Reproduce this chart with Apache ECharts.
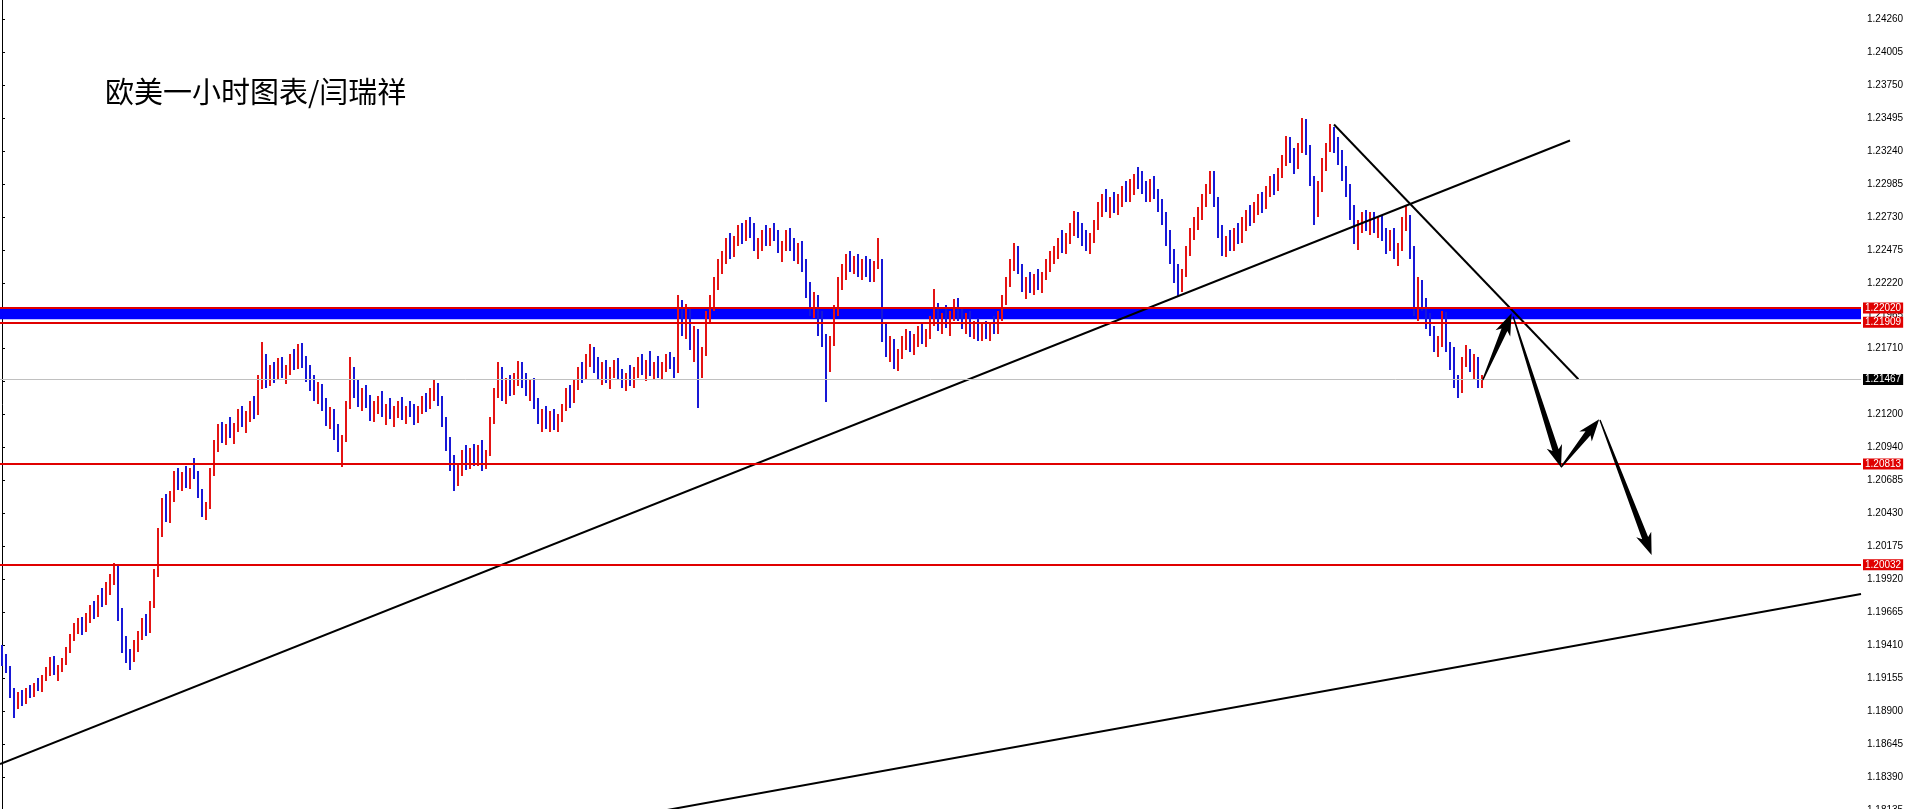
<!DOCTYPE html>
<html><head><meta charset="utf-8">
<script src="https://cdn.jsdelivr.net/npm/echarts@6/dist/echarts.min.js"></script>
<style>html,body{margin:0;padding:0;background:#fff}#c{width:1909px;height:809px}</style>
</head><body><div id="c"></div>
<script>
// Hourly EUR/USD bars (one bar per index)
const opens = [
1.1938,1.1928,1.1922,1.1903,1.1896,1.1902,1.1898,1.1906,1.1903,1.1910,
1.1908,1.1915,1.1921,1.1929,1.1920,1.1924,1.1928,1.1937,1.1947,1.1955,
1.1958,1.1953,1.1963,1.1968,1.1965,1.1977,1.1974,1.1986,1.1993,1.1998,
1.1965,1.1940,1.1932,1.1930,1.1942,1.1949,1.1958,1.1952,1.1972,1.1996,
1.2028,1.2050,1.2040,1.2056,1.2070,1.2064,1.2072,1.2066,1.2075,1.2073,
1.2058,1.2044,1.2048,1.2075,1.2096,1.2108,1.2102,1.2109,1.2105,1.2110,
1.2120,1.2114,1.2118,1.2125,1.2121,1.2146,1.2160,1.2147,1.2152,1.2150,
1.2158,1.2152,1.2155,1.2162,1.2158,1.2170,1.2160,1.2150,1.2142,1.2136,
1.2140,1.2126,1.2115,1.2120,1.2105,1.2096,1.2100,1.2126,1.2150,1.2138,
1.2130,1.2135,1.2128,1.2120,1.2126,1.2130,1.2122,1.2124,1.2118,1.2122,
1.2127,1.2119,1.2123,1.2121,1.2116,1.2124,1.2130,1.2126,1.2136,1.2140,
1.2130,1.2114,1.2096,1.2080,1.2068,1.2078,1.2088,1.2082,1.2090,1.2085,
1.2093,1.2080,1.2090,1.2115,1.2136,1.2150,1.2136,1.2144,1.2138,1.2148,
1.2155,1.2145,1.2138,1.2142,1.2128,1.2116,1.2120,1.2112,1.2118,1.2110,
1.2117,1.2125,1.2136,1.2130,1.2143,1.2152,1.2148,1.2162,1.2168,1.2156,
1.2150,1.2157,1.2148,1.2153,1.2158,1.2150,1.2144,1.2149,1.2146,1.2152,
1.2160,1.2154,1.2158,1.2152,1.2157,1.2150,1.2156,1.2162,1.2158,1.2153,
1.2205,1.2186,1.2198,1.2175,1.2182,1.2150,1.2168,1.2196,1.2205,1.2222,
1.2236,1.2240,1.2252,1.2246,1.2255,1.2262,1.2256,1.2266,1.2260,1.2250,
1.2252,1.2258,1.2254,1.2262,1.2257,1.2248,1.2250,1.2258,1.2250,1.2242,
1.2248,1.2234,1.2215,1.2200,1.2208,1.2186,1.2178,1.2160,1.2176,1.2200,
1.2222,1.2230,1.2240,1.2234,1.2238,1.2230,1.2236,1.2232,1.2226,1.2235,
1.2238,1.2182,1.2170,1.2174,1.2160,1.2166,1.2176,1.2180,1.2172,1.2178,
1.2184,1.2177,1.2182,1.2192,1.2200,1.2188,1.2194,1.2190,1.2196,1.2205,
1.2196,1.2190,1.2194,1.2184,1.2188,1.2180,1.2186,1.2182,1.2188,1.2185,
1.2196,1.2208,1.2222,1.2236,1.2244,1.2232,1.2218,1.2222,1.2218,1.2225,
1.2220,1.2228,1.2236,1.2242,1.2246,1.2252,1.2248,1.2256,1.2264,1.2270,
1.2260,1.2256,1.2250,1.2256,1.2266,1.2280,1.2286,1.2280,1.2284,1.2280,
1.2286,1.2292,1.2288,1.2298,1.2302,1.2298,1.2294,1.2288,1.2298,1.2290,
1.2280,1.2270,1.2256,1.2240,1.2228,1.2218,1.2228,1.2246,1.2260,1.2268,
1.2276,1.2286,1.2294,1.2304,1.2284,1.2260,1.2248,1.2254,1.2250,1.2260,
1.2256,1.2268,1.2274,1.2270,1.2280,1.2284,1.2280,1.2292,1.2300,1.2296,
1.2306,1.2316,1.2328,1.2318,1.2312,1.2326,1.2340,1.2324,1.2300,1.2276,
1.2296,1.2314,1.2326,1.2338,1.2328,1.2316,1.2306,1.2292,1.2276,1.2258,
1.2266,1.2270,1.2266,1.2272,1.2264,1.2268,1.2258,1.2250,1.2258,1.2244,
1.2248,1.2266,1.2270,1.2244,1.2200,1.2220,1.2204,1.2190,1.2184,1.2172,
1.2176,1.2196,1.2172,1.2158,1.2146,1.2138,1.2160,1.2166,1.2156,1.2162,
1.2144];
const highs = [
1.1941,1.1934,1.1925,1.1908,1.1905,1.1906,1.1908,1.1910,1.1912,1.1916,
1.1918,1.1924,1.1932,1.1933,1.1926,1.1931,1.1940,1.1950,1.1958,1.1962,
1.1963,1.1966,1.1972,1.1975,1.1980,1.1985,1.1990,1.1996,1.2005,1.2003,
1.1970,1.1948,1.1938,1.1945,1.1952,1.1962,1.1965,1.1975,1.2000,1.2032,
1.2055,1.2058,1.2060,1.2076,1.2078,1.2075,1.2080,1.2078,1.2086,1.2076,
1.2062,1.2052,1.2078,1.2100,1.2112,1.2114,1.2112,1.2118,1.2113,1.2124,
1.2126,1.2122,1.2130,1.2134,1.2150,1.2176,1.2166,1.2158,1.2160,1.2163,
1.2164,1.2158,1.2166,1.2170,1.2174,1.2175,1.2165,1.2158,1.2150,1.2145,
1.2143,1.2132,1.2125,1.2124,1.2112,1.2104,1.2130,1.2164,1.2156,1.2146,
1.2140,1.2142,1.2135,1.2130,1.2134,1.2138,1.2128,1.2132,1.2126,1.2130,
1.2133,1.2126,1.2130,1.2128,1.2126,1.2134,1.2136,1.2140,1.2146,1.2144,
1.2134,1.2118,1.2102,1.2088,1.2082,1.2092,1.2096,1.2094,1.2097,1.2096,
1.2100,1.2092,1.2118,1.2140,1.2160,1.2156,1.2148,1.2150,1.2152,1.2161,
1.2160,1.2152,1.2146,1.2148,1.2132,1.2124,1.2126,1.2122,1.2124,1.2120,
1.2128,1.2140,1.2142,1.2146,1.2156,1.2160,1.2166,1.2174,1.2172,1.2164,
1.2160,1.2162,1.2156,1.2162,1.2163,1.2155,1.2152,1.2158,1.2156,1.2164,
1.2166,1.2162,1.2169,1.2160,1.2165,1.2160,1.2166,1.2168,1.2164,1.2212,
1.2208,1.2205,1.2203,1.2188,1.2186,1.2172,1.2200,1.2212,1.2226,1.2240,
1.2246,1.2256,1.2260,1.2258,1.2266,1.2268,1.2270,1.2272,1.2268,1.2256,
1.2262,1.2266,1.2264,1.2268,1.2262,1.2254,1.2262,1.2264,1.2256,1.2252,
1.2254,1.2240,1.2222,1.2214,1.2212,1.2200,1.2182,1.2180,1.2204,1.2226,
1.2236,1.2244,1.2246,1.2242,1.2244,1.2240,1.2242,1.2240,1.2238,1.2256,
1.2240,1.2190,1.2180,1.2178,1.2170,1.2180,1.2186,1.2184,1.2182,1.2188,
1.2190,1.2186,1.2196,1.2217,1.2206,1.2198,1.2204,1.2200,1.2209,1.2210,
1.2202,1.2198,1.2200,1.2192,1.2194,1.2190,1.2192,1.2190,1.2196,1.2200,
1.2212,1.2226,1.2240,1.2252,1.2250,1.2236,1.2226,1.2230,1.2228,1.2232,
1.2230,1.2240,1.2246,1.2250,1.2256,1.2262,1.2260,1.2268,1.2277,1.2276,
1.2268,1.2262,1.2260,1.2270,1.2284,1.2290,1.2294,1.2288,1.2292,1.2290,
1.2296,1.2300,1.2302,1.2306,1.2311,1.2308,1.2300,1.2302,1.2304,1.2294,
1.2286,1.2276,1.2262,1.2248,1.2236,1.2232,1.2250,1.2264,1.2272,1.2280,
1.2290,1.2298,1.2308,1.2308,1.2288,1.2266,1.2258,1.2262,1.2264,1.2268,
1.2272,1.2278,1.2282,1.2284,1.2290,1.2292,1.2296,1.2304,1.2306,1.2310,
1.2320,1.2335,1.2334,1.2326,1.2330,1.2349,1.2348,1.2328,1.2304,1.2300,
1.2318,1.2330,1.2344,1.2342,1.2334,1.2324,1.2312,1.2298,1.2282,1.2270,
1.2276,1.2278,1.2276,1.2276,1.2272,1.2274,1.2264,1.2262,1.2264,1.2252,
1.2272,1.2282,1.2274,1.2250,1.2226,1.2224,1.2210,1.2198,1.2188,1.2180,
1.2200,1.2199,1.2176,1.2172,1.2150,1.2164,1.2173,1.2170,1.2166,1.2164,
1.2150];
const lows = [
1.1925,1.1919,1.1900,1.1885,1.1892,1.1894,1.1896,1.1900,1.1901,1.1906,
1.1905,1.1913,1.1917,1.1918,1.1914,1.1920,1.1926,1.1935,1.1944,1.1950,
1.1949,1.1951,1.1958,1.1961,1.1963,1.1970,1.1972,1.1980,1.1988,1.1960,
1.1935,1.1927,1.1922,1.1928,1.1936,1.1945,1.1948,1.1950,1.1970,1.1994,
1.2025,1.2036,1.2035,1.2052,1.2061,1.2060,1.2063,1.2062,1.2070,1.2055,
1.2040,1.2038,1.2046,1.2072,1.2090,1.2098,1.2096,1.2102,1.2097,1.2106,
1.2110,1.2105,1.2114,1.2116,1.2119,1.2140,1.2140,1.2142,1.2144,1.2147,
1.2148,1.2143,1.2150,1.2154,1.2155,1.2156,1.2145,1.2138,1.2130,1.2128,
1.2122,1.2110,1.2108,1.2100,1.2090,1.2079,1.2098,1.2124,1.2132,1.2125,
1.2122,1.2124,1.2115,1.2114,1.2120,1.2118,1.2112,1.2116,1.2110,1.2117,
1.2115,1.2112,1.2118,1.2112,1.2113,1.2120,1.2121,1.2124,1.2130,1.2126,
1.2110,1.2092,1.2076,1.2060,1.2064,1.2072,1.2077,1.2078,1.2080,1.2080,
1.2076,1.2077,1.2088,1.2112,1.2132,1.2130,1.2128,1.2134,1.2135,1.2142,
1.2140,1.2134,1.2130,1.2124,1.2112,1.2106,1.2108,1.2106,1.2108,1.2106,
1.2114,1.2122,1.2124,1.2128,1.2138,1.2144,1.2146,1.2156,1.2152,1.2146,
1.2142,1.2144,1.2139,1.2148,1.2146,1.2140,1.2138,1.2142,1.2140,1.2148,
1.2150,1.2146,1.2150,1.2146,1.2148,1.2147,1.2152,1.2155,1.2148,1.2152,
1.2180,1.2178,1.2170,1.2160,1.2125,1.2148,1.2165,1.2190,1.2200,1.2216,
1.2228,1.2236,1.2240,1.2242,1.2250,1.2252,1.2254,1.2256,1.2246,1.2240,
1.2246,1.2250,1.2250,1.2254,1.2244,1.2238,1.2246,1.2246,1.2238,1.2236,
1.2230,1.2210,1.2196,1.2194,1.2180,1.2172,1.2129,1.2152,1.2172,1.2196,
1.2216,1.2224,1.2230,1.2228,1.2226,1.2224,1.2226,1.2222,1.2222,1.2232,
1.2176,1.2164,1.2160,1.2155,1.2153,1.2162,1.2170,1.2168,1.2166,1.2172,
1.2174,1.2172,1.2178,1.2188,1.2184,1.2182,1.2186,1.2181,1.2192,1.2192,
1.2186,1.2182,1.2180,1.2178,1.2176,1.2176,1.2178,1.2176,1.2182,1.2182,
1.2192,1.2204,1.2218,1.2230,1.2228,1.2214,1.2209,1.2214,1.2212,1.2216,
1.2214,1.2224,1.2230,1.2236,1.2240,1.2244,1.2244,1.2252,1.2258,1.2256,
1.2250,1.2246,1.2244,1.2252,1.2262,1.2272,1.2276,1.2272,1.2276,1.2274,
1.2280,1.2284,1.2284,1.2290,1.2294,1.2290,1.2284,1.2284,1.2286,1.2276,
1.2266,1.2250,1.2236,1.2222,1.2211,1.2214,1.2226,1.2242,1.2254,1.2262,
1.2270,1.2280,1.2290,1.2280,1.2256,1.2242,1.2242,1.2246,1.2246,1.2252,
1.2252,1.2262,1.2266,1.2268,1.2274,1.2276,1.2278,1.2288,1.2290,1.2292,
1.2302,1.2312,1.2314,1.2306,1.2310,1.2322,1.2320,1.2296,1.2266,1.2272,
1.2292,1.2308,1.2322,1.2322,1.2312,1.2300,1.2288,1.2270,1.2252,1.2247,
1.2260,1.2262,1.2258,1.2260,1.2256,1.2254,1.2244,1.2246,1.2240,1.2234,
1.2246,1.2262,1.2240,1.2196,1.2192,1.2200,1.2186,1.2180,1.2168,1.2164,
1.2172,1.2168,1.2154,1.2140,1.2132,1.2136,1.2156,1.2152,1.2146,1.2140,
1.2140];
const closes = [
1.1928,1.1922,1.1903,1.1896,1.1902,1.1898,1.1906,1.1903,1.1910,1.1908,
1.1915,1.1921,1.1929,1.1920,1.1924,1.1928,1.1937,1.1947,1.1955,1.1958,
1.1953,1.1963,1.1968,1.1965,1.1977,1.1974,1.1986,1.1993,1.1998,1.1965,
1.1940,1.1932,1.1930,1.1942,1.1949,1.1958,1.1952,1.1972,1.1996,1.2028,
1.2050,1.2040,1.2056,1.2070,1.2064,1.2072,1.2066,1.2075,1.2073,1.2058,
1.2044,1.2048,1.2075,1.2096,1.2108,1.2102,1.2109,1.2105,1.2110,1.2120,
1.2114,1.2118,1.2125,1.2121,1.2146,1.2160,1.2147,1.2152,1.2150,1.2158,
1.2152,1.2155,1.2162,1.2158,1.2170,1.2160,1.2150,1.2142,1.2136,1.2140,
1.2126,1.2115,1.2120,1.2105,1.2096,1.2100,1.2126,1.2150,1.2138,1.2130,
1.2135,1.2128,1.2120,1.2126,1.2130,1.2122,1.2124,1.2118,1.2122,1.2127,
1.2119,1.2123,1.2121,1.2116,1.2124,1.2130,1.2126,1.2136,1.2140,1.2130,
1.2114,1.2096,1.2080,1.2068,1.2078,1.2088,1.2082,1.2090,1.2085,1.2093,
1.2080,1.2090,1.2115,1.2136,1.2150,1.2136,1.2144,1.2138,1.2148,1.2155,
1.2145,1.2138,1.2142,1.2128,1.2116,1.2120,1.2112,1.2118,1.2110,1.2117,
1.2125,1.2136,1.2130,1.2143,1.2152,1.2148,1.2162,1.2168,1.2156,1.2150,
1.2157,1.2148,1.2153,1.2158,1.2150,1.2144,1.2149,1.2146,1.2152,1.2160,
1.2154,1.2158,1.2152,1.2157,1.2150,1.2156,1.2162,1.2158,1.2153,1.2205,
1.2186,1.2198,1.2175,1.2182,1.2150,1.2168,1.2196,1.2205,1.2222,1.2236,
1.2240,1.2252,1.2246,1.2255,1.2262,1.2256,1.2266,1.2260,1.2250,1.2252,
1.2258,1.2254,1.2262,1.2257,1.2248,1.2250,1.2258,1.2250,1.2242,1.2248,
1.2234,1.2215,1.2200,1.2208,1.2186,1.2178,1.2160,1.2176,1.2200,1.2222,
1.2230,1.2240,1.2234,1.2238,1.2230,1.2236,1.2232,1.2226,1.2235,1.2238,
1.2182,1.2170,1.2174,1.2160,1.2166,1.2176,1.2180,1.2172,1.2178,1.2184,
1.2177,1.2182,1.2192,1.2200,1.2188,1.2194,1.2190,1.2196,1.2205,1.2196,
1.2190,1.2194,1.2184,1.2188,1.2180,1.2186,1.2182,1.2188,1.2185,1.2196,
1.2208,1.2222,1.2236,1.2244,1.2232,1.2218,1.2222,1.2218,1.2225,1.2220,
1.2228,1.2236,1.2242,1.2246,1.2252,1.2248,1.2256,1.2264,1.2270,1.2260,
1.2256,1.2250,1.2256,1.2266,1.2280,1.2286,1.2280,1.2284,1.2280,1.2286,
1.2292,1.2288,1.2298,1.2302,1.2298,1.2294,1.2288,1.2298,1.2290,1.2280,
1.2270,1.2256,1.2240,1.2228,1.2218,1.2228,1.2246,1.2260,1.2268,1.2276,
1.2286,1.2294,1.2304,1.2284,1.2260,1.2248,1.2254,1.2250,1.2260,1.2256,
1.2268,1.2274,1.2270,1.2280,1.2284,1.2280,1.2292,1.2300,1.2296,1.2306,
1.2316,1.2328,1.2318,1.2312,1.2326,1.2340,1.2324,1.2300,1.2276,1.2296,
1.2314,1.2326,1.2338,1.2328,1.2316,1.2306,1.2292,1.2276,1.2258,1.2266,
1.2270,1.2266,1.2272,1.2264,1.2268,1.2258,1.2250,1.2258,1.2244,1.2248,
1.2266,1.2270,1.2244,1.2200,1.2220,1.2204,1.2190,1.2184,1.2172,1.2176,
1.2196,1.2172,1.2158,1.2146,1.2138,1.2160,1.2166,1.2156,1.2162,1.2144,
1.2147];

// Horizontal levels drawn on the chart
const redLevels = [1.22020, 1.21909, 1.20813, 1.20032];
const lastPrice = 1.21467;
const zoneTop = 1.22014, zoneBottom = 1.21932;

// Trend lines: [barIndex, price] end points
const trendUp = [[-0.5, 1.18491], [392, 1.23316]];
const trendLow = [[149.5, 1.18041], [464.75, 1.19807]];
const trendDown = [[333, 1.2344], [394.1, 1.21468]];

// Projection arrows: [fromIndex, fromPrice, toIndex, toPrice]
const arrows = [
  [370.2, 1.21462, 377.4, 1.21979],
  [377.8, 1.21953, 389.75, 1.20787],
  [389.75, 1.20787, 399.3, 1.21159],
  [399.5, 1.21153, 412.4, 1.20108]
];

// Price axis (tick labels as printed on the reference, bottom to top)
const axisMin = 1.18135, axisMax = 1.24403, axisStep = 0.00255;
const tickLabels = ['1.18135','1.18390','1.18645','1.18900','1.19155','1.19410','1.19665','1.19920',
  '1.20175','1.20430','1.20685','1.20940','1.21200','1.21455','1.21710','1.21965','1.22220',
  '1.22475','1.22730','1.22985','1.23240','1.23495','1.23750','1.24005','1.24260'];
const xMin = -0.5, xMax = 464.75;

const title = '欧美一小时图表/闫瑞祥';

const bars = opens.map((o, i) => [i, o, highs[i], lows[i], closes[i]]);

function renderBar(params, api) {
  const i = api.value(0);
  const o = api.value(1), h = api.value(2), l = api.value(3), c = api.value(4);
  const top = api.coord([i, h]);
  const bot = api.coord([i, l]);
  const color = c >= o ? '#e41414' : '#1818d6';
  const x = Math.round(top[0]);
  return {
    type: 'rect',
    shape: { x: x - 1, y: Math.round(top[1]), width: 2, height: Math.max(1, Math.round(bot[1] - top[1])) },
    style: { fill: color }
  };
}

function renderArrow(params, api) {
  const a = api.coord([api.value(0), api.value(1)]);
  const b = api.coord([api.value(2), api.value(3)]);
  const dx = b[0] - a[0], dy = b[1] - a[1];
  const len = Math.hypot(dx, dy);
  const ux = dx / len, uy = dy / len, nx = -uy, ny = ux;
  const headL = 22, headW = 8, w0 = 0.7, w1 = 3.2, notch = 4;
  const bx = b[0] - ux * headL, by = b[1] - uy * headL;
  const nbx = b[0] - ux * (headL - notch), nby = b[1] - uy * (headL - notch);
  const pts = [
    [a[0] + nx * w0, a[1] + ny * w0],
    [nbx + nx * w1, nby + ny * w1],
    [bx + nx * headW, by + ny * headW],
    [b[0], b[1]],
    [bx - nx * headW, by - ny * headW],
    [nbx - nx * w1, nby - ny * w1],
    [a[0] - nx * w0, a[1] - ny * w0]
  ];
  return { type: 'polygon', shape: { points: pts }, style: { fill: '#000' } };
}

function tagLabel(bg) {
  return {
    show: true, position: 'end', distance: 2,
    formatter: p => Number(p.value).toFixed(5),
    color: '#fff', backgroundColor: bg, padding: [1, 2, 0, 2],
    fontSize: 10, fontFamily: 'Liberation Sans, Arial, sans-serif'
  };
}

const chart = echarts.init(document.getElementById('c'), null, { renderer: 'canvas' });
chart.setOption({
  animation: false,
  backgroundColor: '#fff',
  title: {
    text: title, left: 100, top: 72,
    textStyle: { fontSize: 29, fontWeight: 'normal', color: '#000', fontFamily: 'Noto Sans CJK SC' }
  },
  grid: { left: 0, right: 48, top: 0, height: 810, containLabel: false, outerBoundsMode: 'none' },
  xAxis: { type: 'value', min: xMin, max: xMax, show: false },
  yAxis: {
    type: 'value', position: 'right', min: axisMin, max: axisMax, interval: axisStep,
    axisLine: { show: true, lineStyle: { color: '#000', width: 1 } },
    axisTick: { show: true, length: 3, lineStyle: { color: '#000' } },
    splitLine: { show: false },
    axisLabel: {
      color: '#000', fontSize: 10, margin: 6, showMaxLabel: false,
      fontFamily: 'Liberation Sans, Arial, sans-serif',
      formatter: v => {
        const k = Math.round((v - axisMin) / axisStep);
        return tickLabels[k] !== undefined ? tickLabels[k] : '';
      }
    }
  },
  series: [
    {
      type: 'line', z: 1, silent: true, symbol: 'none',
      data: [[xMin, lastPrice], [xMax, lastPrice]],
      lineStyle: { width: 0, opacity: 0 },
      markArea: {
        silent: true,
        itemStyle: { color: '#0000ff' },
        data: [[{ yAxis: zoneTop }, { yAxis: zoneBottom }]]
      },
      markLine: {
        silent: true, symbol: 'none', precision: 5,
        data: [
          { yAxis: lastPrice, lineStyle: { color: '#c0c0c0', width: 1, type: 'solid' }, label: tagLabel('#000') },
          ...redLevels.map(v => ({ yAxis: v, lineStyle: { color: '#e00000', width: 2, type: 'solid' }, label: tagLabel('#e00000') }))
        ]
      }
    },
    {
      type: 'custom', z: 3, silent: true,
      renderItem: renderBar,
      encode: { x: 0, y: [1, 2, 3, 4] },
      data: bars
    },
    { type: 'line', z: 4, silent: true, symbol: 'none', data: trendUp, lineStyle: { color: '#000', width: 2 } },
    { type: 'line', z: 4, silent: true, symbol: 'none', data: trendLow, lineStyle: { color: '#000', width: 2 } },
    { type: 'line', z: 4, silent: true, symbol: 'none', data: trendDown, lineStyle: { color: '#000', width: 2 } },
    {
      type: 'custom', z: 5, silent: true,
      renderItem: renderArrow,
      encode: { x: [0, 2], y: [1, 3] },
      data: arrows
    }
  ]
});
</script>
</body></html>
